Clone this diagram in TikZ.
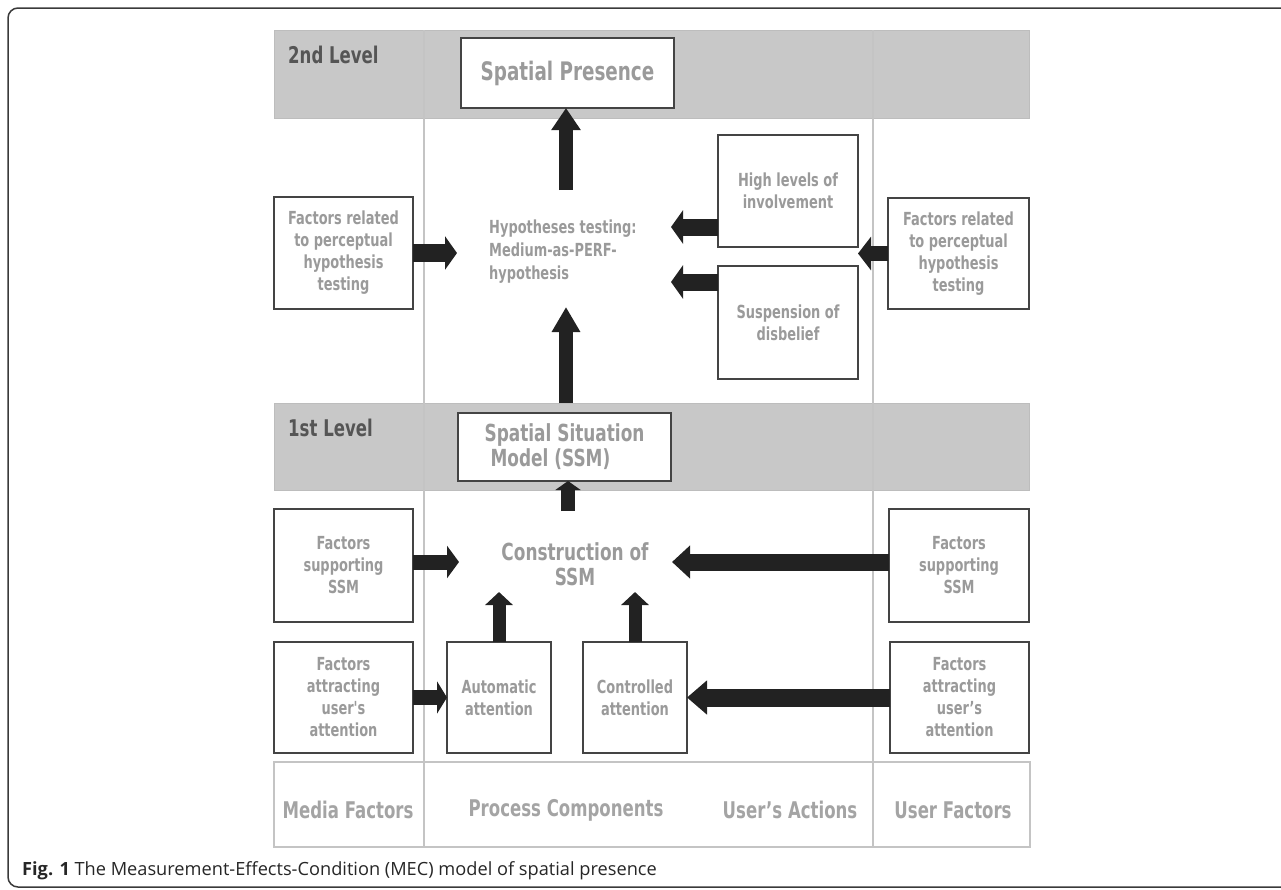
\documentclass[tikz,border=0pt]{standalone}
\usepackage{fontspec}
\setmainfont{Open Sans}
\newfontfamily\df[FakeStretch=0.72]{DejaVu Sans}
\usetikzlibrary{arrows.meta}
\definecolor{txt}{HTML}{9A9A9A}
\definecolor{lvl}{HTML}{555555}
\definecolor{band}{HTML}{C8C8C8}
\definecolor{bandline}{HTML}{BDBDBD}
\definecolor{divc}{HTML}{C4C4C4}
\definecolor{boxc}{HTML}{444444}
\definecolor{arrc}{HTML}{222222}
\definecolor{frame}{HTML}{3A3A3A}
\tikzset{
  box/.style={draw=boxc, line width=1.3pt, fill=white, inner sep=0pt, outer sep=0pt,
    align=center, text=txt, font=\df\bfseries\fontsize{18}{22}\selectfont},
  bigtxt/.style={text=txt, font=\df\bfseries\fontsize{23.5}{25}\selectfont, inner sep=0pt},
  lvltxt/.style={text=lvl, font=\df\bfseries\fontsize{23}{25}\selectfont, inner sep=0pt, anchor=west},
  foottxt/.style={text=txt!90, font=\df\bfseries\fontsize{23}{25}\selectfont, inner sep=0pt},
  fat/.style n args={3}{draw=arrc, line width=#1, -{Triangle[width=#2, length=#3]}, arrc},
}
\begin{document}
\begin{tikzpicture}[x=1pt,y=-1pt]
\useasboundingbox (0,0) rectangle (1281,889);
% outer frame
\draw[line width=1.5pt, draw=frame, rounded corners=10pt] (8,8) rectangle (1310,887);
% bands
\draw[fill=band, draw=bandline, line width=1pt] (274,30) rectangle (1029,118);
\draw[fill=band, draw=bandline, line width=1pt] (274,403) rectangle (1029,490);
\coordinate (band1top) at (566,403);
% bottom row
\draw[draw=divc, line width=1.2pt, fill=white] (274,762) rectangle (1030,847);
% column dividers
\draw[draw=divc, line width=1.2pt] (424,30) -- (424,847);
\draw[draw=divc, line width=1.2pt] (873,30) -- (873,847);
% level labels
\node[lvltxt] (lvl2) at (288,55) {2nd Level};
\node[lvltxt] (lvl1) at (288,428) {1st Level};
% boxes
\node[box, minimum width=213, minimum height=70, font=\df\bfseries\fontsize{25.5}{27}\selectfont] (SP) at (567.5,73) {\raisebox{-3pt}{Spatial Presence}};
\node[box, minimum width=139, minimum height=112] (hypL) at (343.5,253) {Factors related\\to perceptual\\hypothesis\\testing};
\node[box, minimum width=140, minimum height=112] (high) at (788,191) {High levels of\\involvement};
\node[box, minimum width=140, minimum height=113] (susp) at (788,322.5) {Suspension of\\disbelief};
\node[box, minimum width=141, minimum height=111] (hypR) at (958.5,253.5) {Factors related\\to perceptual\\hypothesis\\testing};
\node[box, minimum width=213, minimum height=68, align=left, font=\df\bfseries\fontsize{23.5}{25}\selectfont] (SSM) at (564.5,447) {Spatial Situation\\\hspace*{6pt}Model (SSM)};
\node[box, minimum width=139, minimum height=113] (supL) at (343.5,565.5) {Factors\\supporting\\SSM};
\node[box, minimum width=140, minimum height=113] (supR) at (959,565.5) {Factors\\supporting\\SSM};
\node[box, minimum width=139, minimum height=111] (attL) at (343.5,697.5) {Factors\\attracting\\user's\\attention};
\node[box, minimum width=104, minimum height=111] (auto) at (499,697.5) {Automatic\\attention};
\node[box, minimum width=104, minimum height=111] (ctrl) at (635,697.5) {Controlled\\attention};
\node[box, minimum width=139, minimum height=111] (attR) at (959.5,697.5) {Factors\\attracting\\user’s\\attention};
% process texts
\node[inner sep=0pt, anchor=west, align=left, text=txt, font=\df\bfseries\fontsize{18}{23}\selectfont] (hyp) at (489,252) {Hypotheses testing:\\Medium-as-PERF-\\hypothesis};
\node[bigtxt, align=center] (con) at (575,564) {Construction of\\SSM};
% free ends
\coordinate (hypTop) at (566,190);
\coordinate (hypBot) at (566,307);
\coordinate (hypLin) at (457,253);
\coordinate (hypRin1) at (671,227);
\coordinate (hypRin2) at (671,282);
\coordinate (conTop) at (568,511);
\coordinate (conL) at (459,562);
\coordinate (conR) at (672,562);
\coordinate (conB) at (0,592);
% arrows
\draw[fat={14pt}{28pt}{22pt}] (hypTop) -- (hypTop |- SP.south);
\draw[fat={18pt}{33pt}{12pt}] (hypL.east |- hypLin) -- (hypLin);
\draw[fat={17pt}{33pt}{12pt}] (high.west |- hypRin1) -- (hypRin1);
\draw[fat={17pt}{33pt}{12pt}] (susp.west |- hypRin2) -- (hypRin2);
\draw[fat={15pt}{33pt}{13pt}] (hypR.west) -- (hypR.west -| high.east);
\draw[fat={14pt}{27pt}{25pt}] (band1top) -- (hypBot);
\draw[fat={14pt}{25pt}{9pt}] (conTop) -- (conTop |- SSM.south);
\draw[fat={15pt}{32pt}{12pt}] (supL.east |- conL) -- (conL);
\draw[fat={17pt}{32pt}{18pt}] (supR.west |- conR) -- (conR);
\draw[fat={15pt}{32pt}{10pt}] (attL.east) -- (auto.west);
\draw[fat={13pt}{27pt}{13pt}] (auto.north) -- (auto.north |- conB);
\draw[fat={13pt}{27pt}{13pt}] (ctrl.north) -- (ctrl.north |- conB);
\draw[fat={18pt}{33pt}{20pt}] (attR.west) -- (ctrl.east);
% footer labels
\node[foottxt] (fmedia) at (348,810) {Media Factors};
\node[foottxt] (fproc) at (566,810) {Process Components};
\node[foottxt] (fuser) at (790,810) {User’s Actions};
\node[foottxt] (ufac) at (953,810) {User Factors};
% caption
\node[anchor=base west, inner sep=0pt, text=black!85, font=\fontsize{18.2}{21}\selectfont] (cap) at (22,875) {\textbf{Fig. 1} The Measurement-Effects-Condition (MEC) model of spatial presence};
\end{tikzpicture}
\end{document}
